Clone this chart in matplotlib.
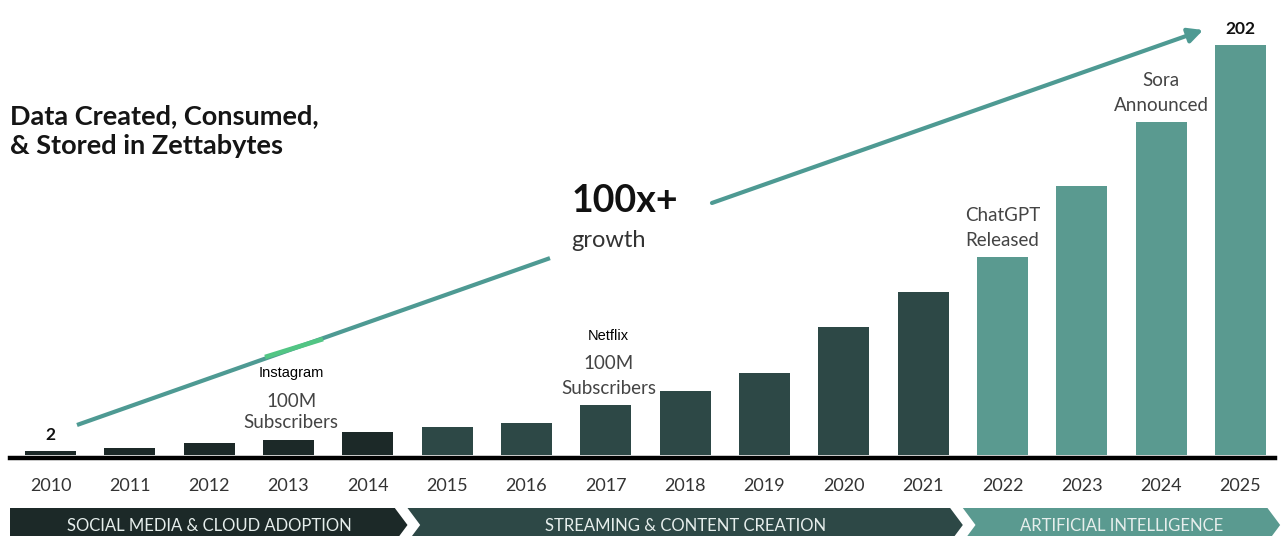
import matplotlib.pyplot as plt
from matplotlib.patches import Polygon
from matplotlib.transforms import blended_transform_factory

years = [str(y) for y in range(2010, 2026)]
zettabytes = [2, 3.5, 6, 7.5, 11.5, 14, 16, 24.5, 31.5, 40.5, 63, 80.5, 97.5, 132.5, 164, 202]
phase_names = ["SOCIAL MEDIA & CLOUD ADOPTION", "STREAMING & CONTENT CREATION", "ARTIFICIAL INTELLIGENCE"]
phase_first = [0, 5, 12]
phase_last = [4, 11, 15]
phase_colors = ["#1c2928", "#2d4846", "#5a9a90"]
events = [(3, "100M\nSubscribers", "Instagram"), (7, "100M\nSubscribers", "Netflix"),
          (12, "ChatGPT\nReleased", None), (14, "Sora\nAnnounced", None)]

plt.rcParams['font.family'] = ['Lato', 'DejaVu Sans']

fig = plt.figure(figsize=(12.82, 5.36), dpi=100)
W, H = 1282, 536
ax = fig.add_axes([10 / W, (H - 457.5) / H, 1265 / W, 457.5 / H])
ax.set_xlim(-0.5105, 15.435)
ax.set_ylim(-1.23, 224.4)

bar_colors = []
for i in range(len(years)):
    for c, a, b in zip(phase_colors, phase_first, phase_last):
        if a <= i <= b:
            bar_colors.append(c)
x = list(range(len(years)))
ax.bar(x, zettabytes, width=0.643, color=bar_colors, zorder=1)

for s in ['top', 'right', 'left']:
    ax.spines[s].set_visible(False)
ax.spines['bottom'].set_linewidth(3.2)
ax.spines['bottom'].set_color('black')
ax.spines['bottom'].set_zorder(3)
ax.set_yticks([])
ax.set_xticks(x)
ax.set_xticklabels(years, fontsize=13, color='#333333')
ax.tick_params(axis='x', length=0, pad=15)

# end values
for i in [0, len(years) - 1]:
    ax.annotate(str(zettabytes[i]), (i, zettabytes[i]), xytext=(0, 6), textcoords='offset points',
                ha='center', va='bottom', fontsize=12.5, fontweight='bold', color='#111111')

# event labels
for i, txt, head in events:
    ax.annotate(txt, (i, zettabytes[i]), xytext=(2 if head else 0, 6), textcoords='offset points',
                ha='center', va='bottom', fontsize=13.5, color='#444444',
                linespacing=1.3 if i == 3 else 1.6)
    if head:
        ax.annotate(head, (i, zettabytes[i]), xytext=(2, 43 if i == 3 else 45), textcoords='offset points',
                    ha='center', va='bottom', fontsize=10.5, color='black',
                    family=['Liberation Sans', 'DejaVu Sans'])

# growth arrow
arrow_color = '#4e9a93'
ax.plot([0.334, 6.296], [14.8, 97.1], color=arrow_color, lw=3, solid_capstyle='butt', clip_on=False, zorder=2)
ax.plot([2.704, 3.435], [48.3, 57.2], color='#52c584', lw=3.4, solid_capstyle='butt', clip_on=False, zorder=2)
ax.annotate('', xy=(14.53, 209.6), xytext=(8.338, 124.3),
            arrowprops=dict(arrowstyle='-|>', lw=3, color=arrow_color, mutation_scale=22,
                            shrinkA=0, shrinkB=0), annotation_clip=False)
ax.text(6.57, 125.2, '100x+', fontsize=27, fontweight='bold', color='#111111', va='center', ha='left')
ax.text(6.57, 106, 'growth', fontsize=17, color='#333333', va='center', ha='left')

fig.text(10 / W, 1 - 131 / H, 'Data Created, Consumed,\n& Stored in Zettabytes', fontsize=19.5,
         fontweight='bold', color='#151515', ha='left', va='center', linespacing=1.25)

# phase bands
tr = blended_transform_factory(ax.transData, fig.transFigure)
top, bot, mid = 1 - 508 / H, 1 - 542 / H, 1 - 525 / H
d = 0.16
for k, (name, a, b, c) in enumerate(zip(phase_names, phase_first, phase_last, phase_colors)):
    left = -0.5105 if k == 0 else a - 0.5
    right = b + 0.5 - d
    pts = [(left, top), (right, top), (right + d, mid), (right, bot), (left, bot)]
    if k > 0:
        pts.append((left + d, mid))
    fig.add_artist(Polygon(pts, closed=True, facecolor=c, edgecolor='none', transform=tr, zorder=1))
    fig.text((a + b) / 2, 1 - 526 / H, name, transform=tr, ha='center', va='center',
             fontsize=12, color='#e6eeec', zorder=2)

fig.savefig('out.png', dpi=100)
